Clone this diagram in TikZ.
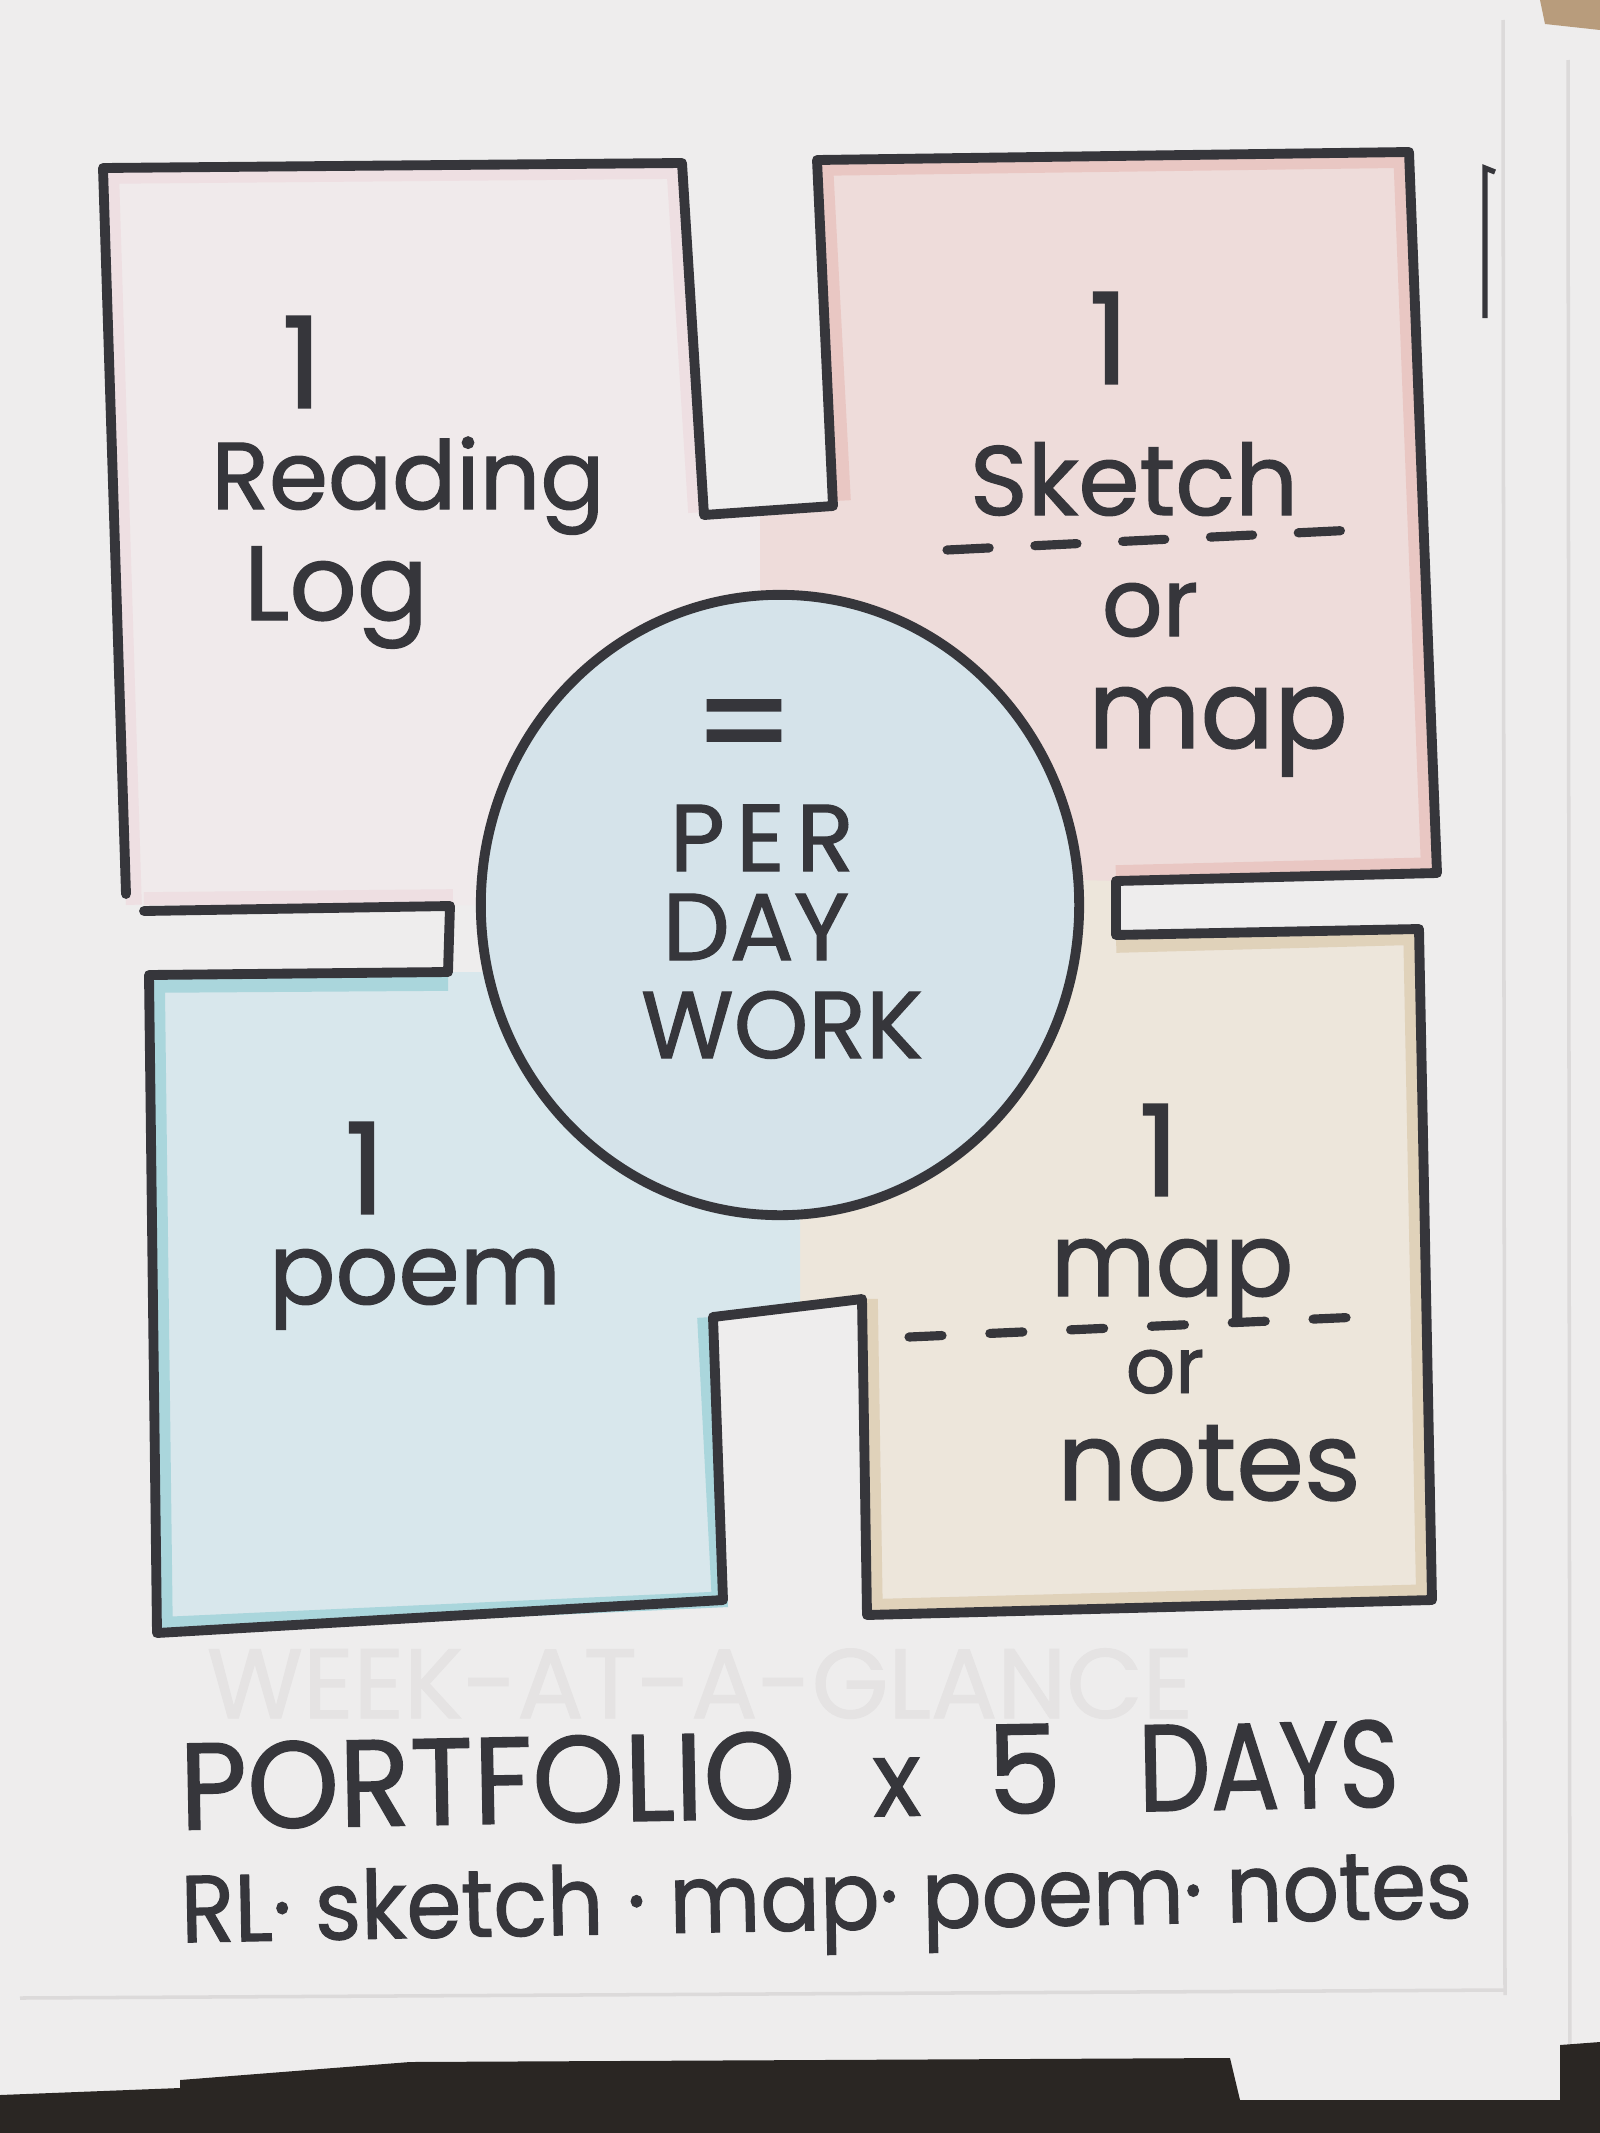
\documentclass[tikz,border=0pt]{standalone}
\usepackage{fontspec}
\usetikzlibrary{shapes.geometric}
\newfontfamily\hand{Poppins}[FakeBold=1.2]
\newfontfamily\handl{Poppins}[FakeBold=1.2,LetterSpace=12]
\newfontfamily\handn{Poppins}[FakeBold=1.2,FakeStretch=0.93]
\newfontfamily\handw{Poppins}[FakeBold=1.2,FakeStretch=0.95]
\newfontfamily\handc{Poppins}[FakeBold=1.2,FakeStretch=0.83]
\newcommand\hsz[1]{\hand\fontsize{#1}{#1}\selectfont}
\newcommand\hnz[1]{\handn\fontsize{#1}{#1}\selectfont}
\definecolor{paperc}{HTML}{EEEDED}
\definecolor{sheetc}{HTML}{DCDADA}
\definecolor{deskc}{HTML}{2A2623}
\definecolor{cardc}{HTML}{B89C7C}
\definecolor{inkc}{HTML}{36363B}
\definecolor{ghostc}{HTML}{E5E3E3}
\definecolor{pinkA}{HTML}{F0EAEB}
\definecolor{pinkB}{HTML}{EEDFE2}
\definecolor{redA}{HTML}{EEDCDA}
\definecolor{redB}{HTML}{E7B9B4}
\definecolor{blueA}{HTML}{D5E3EA}
\definecolor{tealA}{HTML}{D8E7EC}
\definecolor{tealB}{HTML}{AAD6DC}
\definecolor{beigeA}{HTML}{EDE6DB}
\definecolor{beigeB}{HTML}{E0D2BA}

\begin{document}
\begin{tikzpicture}[x=0.01cm,y=-0.01cm,
	ink/.style={draw=inkc,line width=2.8pt,line join=round,line cap=round},
	band/.style={line width=9pt,line join=round},
	txt/.style={text=inkc,inner sep=0pt}]
			\useasboundingbox(0,0)rectangle(1600,2133);
			\fill[paperc](0,0)rectangle(1600,2133);
			% paper stack and desk
			\draw[sheetc,line width=1pt](1503,20)--(1505,1995);
			\draw[sheetc,line width=1pt](1568,60)--(1570,2100);
			\draw[sheetc,line width=1pt](20,1998)--(1505,1990);
			\fill[deskc](0,2133)--(0,2095)--(180,2088)--(180,2080)--(410,2062)--(1230,2058)--(1240,2100)--(1560,2100)--(1560,2045)--(1600,2042)--(1600,2133)--cycle;
			\fill[cardc](1540,0)--(1600,0)--(1600,30)--(1545,24)--cycle;
			\draw[inkc,line width=1.5pt](1495,172)--(1485,168)--(1485,318);
			% pencil colours
			\begin{scope}
				\clip(103,168)--(682,163)--(704,512)--(790,510)--(790,905)--(126,905)--cycle;
				\fill[pinkA](0,0)rectangle(1600,2133);
				\draw[pinkB,band](126,905)--(103,168)--(682,163)--(704,512);
				\draw[pinkB,band](144,908)--(453,905);
			\end{scope}
			\begin{scope}
				\clip(817,160)--(1409,152)--(1437,873)--(1116,881)--(1000,900)--(760,700)--(760,510)--(835,501)--cycle;
				\fill[redA](0,0)rectangle(1600,2133);
				\draw[redB,band,opacity=.6](835,501)--(817,160)--(1409,152)--(1437,873)--(1116,881);
			\end{scope}
			\begin{scope}
				\clip(1116,937)--(1419,929)--(1432,1600)--(867,1615)--(862,1299)--(790,1305)--(790,1180)--(1078,880)--(1116,881)--cycle;
				\fill[beigeA](0,0)rectangle(1600,2133);
				\draw[beigeB,band](862,1299)--(867,1615)--(1432,1600)--(1419,929)--(1116,937);
			\end{scope}
			\begin{scope}
				\clip(149,977)--(448,972)--(560,972)--(800,1200)--(800,1311)--(713,1317)--(728,1607)--(157,1633)--cycle;
				\fill[tealA](0,0)rectangle(1600,2133);
				\draw[tealB,band](448,975)--(149,977)--(157,1633)--(728,1607)--(713,1317);
			\end{scope}
			% outline and circle
			\node[ink,ellipse,fill=blueA,minimum width=5.98cm,minimum height=6.2cm](C0)at(780,905){};
			\draw[ink](126,894)--(103,168)--(682,163)--(704,515)--(833,506)--(817,160)--(1409,152)--(1437,873)--(1116,881)--(1116,935)--(1419,929)--(1432,1600)--(867,1615)--(862,1299)--(713,1317)--(723,1600)--(157,1633)--(149,975)--(448,972)--(450,906)--(144,911);
			% boxes
			\node[txt,font=\hsz{36}](L1)at(302,362){1};
			\node[txt,font=\hsz{27},anchor=base](L2)at(408,509){Reading};
			\node[txt,font=\hsz{30},anchor=base](L3)at(336,620){Log};
			\node[txt,font=\hsz{36}](S1)at(1109,338){1};
			\node[txt,font=\hsz{28},anchor=base](S2)at(1134,515){Sketch};
			\draw[inkc,line width=2.6pt,line cap=round,dash pattern=on 12pt off 13pt](947,550)--(1355,530);
			\node[txt,font=\hsz{27},anchor=base](S3)at(1150,636){or};
			\node[txt,font=\hsz{31},anchor=base](S4)at(1218,748){map};
			\node[txt,font=\hsz{36}](P1)at(365,1168){1};
			\node[txt,font=\hsz{28},anchor=base](P2)at(415,1304){poem};
			\node[txt,font=\hsz{36}](N1)at(1159,1150){1};
			\node[txt,font=\hsz{29},anchor=base](N2)at(1172,1296){map};
			\draw[inkc,line width=2.6pt,line cap=round,dash pattern=on 9.4pt off 13.6pt](909,1337)--(1360,1317);
			\node[txt,font=\hsz{22},anchor=base](N3)at(1165,1393){or};
			\node[txt,font=\hsz{31},anchor=base](N4)at(1209,1500){notes};
			% circle
			\node[txt,font=\hsz{40},anchor=base](C1)at(744,772){=};
			\node[txt,font={\handl\fontsize{27}{27}\selectfont},anchor=base](C2)at(762,871){PER};
			\node[txt,font=\hsz{27},anchor=base](C3)at(756,960){DAY};
			\node[txt,font=\hsz{27},anchor=base](C4)at(782,1058){WORK};
			% footer
			\node[text=ghostc,inner sep=0pt,font=\hsz{28},anchor=base](G0)at(700,1718){WEEK-AT-A-GLANCE};
			\node[txt,font={\handw\fontsize{35}{35}\selectfont},anchor=base,rotate=1.1](F1)at(790,1818){PORTFOLIO\hspace{22pt}{\fontsize{30}{30}\selectfont x}\hspace{19pt}5\hspace{22pt}{\handc DAYS}};
			\node[txt,font=\hnz{27},anchor=base,rotate=1.1](F2)at(827,1930){RL· sketch · map· poem· notes};
		\end{tikzpicture}
\end{document}
